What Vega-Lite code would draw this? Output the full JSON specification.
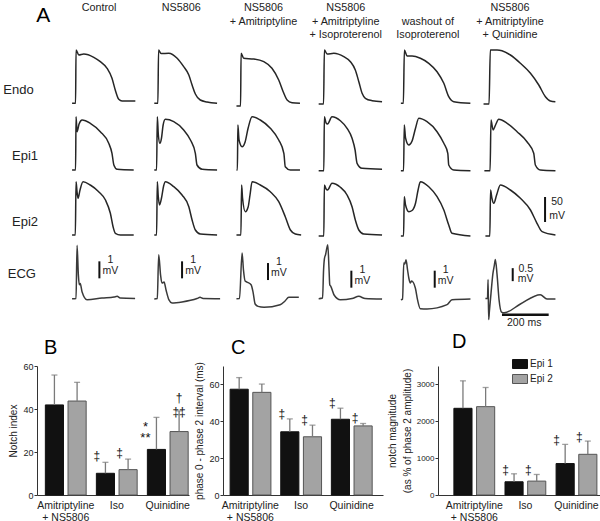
{
"$schema": "https://vega.github.io/schema/vega-lite/v6.json",
"padding": {"left": 3, "top": 2, "right": 0, "bottom": 0},
"config": {"font": "Liberation Sans", "view": {"stroke": null}, "axis": {"grid": false, "domainColor": "#333", "tickColor": "#333", "labelColor": "#222", "titleColor": "#222", "titleFontWeight": "normal"}},
"center": true,
"spacing": 3,
"vconcat": [
{
"data": {"values": [
{"r":"Endo","c":"c1","k":"ap","t":0,"v":-84.6},{"r":"Endo","c":"c1","k":"ap","t":15,"v":-84.6},{"r":"Endo","c":"c1","k":"ap","t":17,"v":22},{"r":"Endo","c":"c1","k":"ap","t":29,"v":12},{"r":"Endo","c":"c1","k":"ap","t":50,"v":14},{"r":"Endo","c":"c1","k":"ap","t":93,"v":7.4},{"r":"Endo","c":"c1","k":"ap","t":121,"v":-1.4},{"r":"Endo","c":"c1","k":"ap","t":150,"v":-14.6},{"r":"Endo","c":"c1","k":"ap","t":171,"v":-34.6},{"r":"Endo","c":"c1","k":"ap","t":185,"v":-58},{"r":"Endo","c":"c1","k":"ap","t":200,"v":-76.6},{"r":"Endo","c":"c1","k":"ap","t":214,"v":-80},{"r":"Endo","c":"c1","k":"ap","t":271,"v":-80},
{"r":"Endo","c":"c2","k":"ap","t":0,"v":-84.6},{"r":"Endo","c":"c2","k":"ap","t":15.4,"v":-84.6},{"r":"Endo","c":"c2","k":"ap","t":18.4,"v":22},{"r":"Endo","c":"c2","k":"ap","t":29,"v":15},{"r":"Endo","c":"c2","k":"ap","t":62,"v":15.4},{"r":"Endo","c":"c2","k":"ap","t":98,"v":5.4},{"r":"Endo","c":"c2","k":"ap","t":126,"v":-11.4},{"r":"Endo","c":"c2","k":"ap","t":148,"v":-28},{"r":"Endo","c":"c2","k":"ap","t":162,"v":-48},{"r":"Endo","c":"c2","k":"ap","t":176,"v":-66},{"r":"Endo","c":"c2","k":"ap","t":197,"v":-78},{"r":"Endo","c":"c2","k":"ap","t":226,"v":-82},{"r":"Endo","c":"c2","k":"ap","t":269,"v":-84.6},
{"r":"Endo","c":"c3","k":"ap","t":0,"v":-90},{"r":"Endo","c":"c3","k":"ap","t":17.6,"v":-90},{"r":"Endo","c":"c3","k":"ap","t":19.7,"v":15.4},{"r":"Endo","c":"c3","k":"ap","t":31,"v":5.4},{"r":"Endo","c":"c3","k":"ap","t":74,"v":4},{"r":"Endo","c":"c3","k":"ap","t":117,"v":-1.4},{"r":"Endo","c":"c3","k":"ap","t":152,"v":-14.6},{"r":"Endo","c":"c3","k":"ap","t":181,"v":-38},{"r":"Endo","c":"c3","k":"ap","t":200,"v":-61.4},{"r":"Endo","c":"c3","k":"ap","t":217,"v":-78},{"r":"Endo","c":"c3","k":"ap","t":238,"v":-83.4},{"r":"Endo","c":"c3","k":"ap","t":272,"v":-84.6},
{"r":"Endo","c":"c4","k":"ap","t":0,"v":-86},{"r":"Endo","c":"c4","k":"ap","t":21,"v":-86},{"r":"Endo","c":"c4","k":"ap","t":24.4,"v":22},{"r":"Endo","c":"c4","k":"ap","t":36,"v":14},{"r":"Endo","c":"c4","k":"ap","t":65,"v":15.4},{"r":"Endo","c":"c4","k":"ap","t":107.5,"v":8.6},{"r":"Endo","c":"c4","k":"ap","t":136,"v":-1.4},{"r":"Endo","c":"c4","k":"ap","t":157,"v":-18},{"r":"Endo","c":"c4","k":"ap","t":172,"v":-41.4},{"r":"Endo","c":"c4","k":"ap","t":186,"v":-64.6},{"r":"Endo","c":"c4","k":"ap","t":200,"v":-74.6},{"r":"Endo","c":"c4","k":"ap","t":229,"v":-79.4},{"r":"Endo","c":"c4","k":"ap","t":271.5,"v":-81.4},
{"r":"Endo","c":"c5","k":"ap","t":0,"v":-84.6},{"r":"Endo","c":"c5","k":"ap","t":10.7,"v":-84.6},{"r":"Endo","c":"c5","k":"ap","t":15,"v":22},{"r":"Endo","c":"c5","k":"ap","t":26.5,"v":10},{"r":"Endo","c":"c5","k":"ap","t":48,"v":10},{"r":"Endo","c":"c5","k":"ap","t":83.5,"v":5.4},{"r":"Endo","c":"c5","k":"ap","t":119.5,"v":-4.6},{"r":"Endo","c":"c5","k":"ap","t":155,"v":-21.4},{"r":"Endo","c":"c5","k":"ap","t":184,"v":-44.6},{"r":"Endo","c":"c5","k":"ap","t":205,"v":-71.4},{"r":"Endo","c":"c5","k":"ap","t":226.5,"v":-81.4},{"r":"Endo","c":"c5","k":"ap","t":297.7,"v":-84.6},
{"r":"Endo","c":"c6","k":"ap","t":2,"v":-86},{"r":"Endo","c":"c6","k":"ap","t":25.7,"v":-86},{"r":"Endo","c":"c6","k":"ap","t":31,"v":22},{"r":"Endo","c":"c6","k":"ap","t":60,"v":22},{"r":"Endo","c":"c6","k":"ap","t":81,"v":20.6},{"r":"Endo","c":"c6","k":"ap","t":117,"v":12},{"r":"Endo","c":"c6","k":"ap","t":160,"v":-4.6},{"r":"Endo","c":"c6","k":"ap","t":203,"v":-24.6},{"r":"Endo","c":"c6","k":"ap","t":238.6,"v":-48},{"r":"Endo","c":"c6","k":"ap","t":267,"v":-71.4},{"r":"Endo","c":"c6","k":"ap","t":288,"v":-80},{"r":"Endo","c":"c6","k":"ap","t":309.7,"v":-81.4},
{"r":"Epi1","c":"c1","k":"ap","t":0,"v":-86},{"r":"Epi1","c":"c1","k":"ap","t":15,"v":-86},{"r":"Epi1","c":"c1","k":"ap","t":17,"v":20.6},{"r":"Epi1","c":"c1","k":"ap","t":21.4,"v":-9.4},{"r":"Epi1","c":"c1","k":"ap","t":30,"v":6},{"r":"Epi1","c":"c1","k":"ap","t":43,"v":14},{"r":"Epi1","c":"c1","k":"ap","t":78,"v":7.4},{"r":"Epi1","c":"c1","k":"ap","t":121,"v":-9.4},{"r":"Epi1","c":"c1","k":"ap","t":157,"v":-32.6},{"r":"Epi1","c":"c1","k":"ap","t":171,"v":-52.6},{"r":"Epi1","c":"c1","k":"ap","t":179,"v":-76},{"r":"Epi1","c":"c1","k":"ap","t":193,"v":-84.6},{"r":"Epi1","c":"c1","k":"ap","t":264,"v":-86},
{"r":"Epi1","c":"c2","k":"ap","t":0,"v":-86},{"r":"Epi1","c":"c2","k":"ap","t":10,"v":-86},{"r":"Epi1","c":"c2","k":"ap","t":13,"v":20.6},{"r":"Epi1","c":"c2","k":"ap","t":17.5,"v":-16},{"r":"Epi1","c":"c2","k":"ap","t":24,"v":-32.6},{"r":"Epi1","c":"c2","k":"ap","t":31,"v":-22},{"r":"Epi1","c":"c2","k":"ap","t":38,"v":4},{"r":"Epi1","c":"c2","k":"ap","t":47.5,"v":15.4},{"r":"Epi1","c":"c2","k":"ap","t":83.5,"v":10.6},{"r":"Epi1","c":"c2","k":"ap","t":126,"v":-6},{"r":"Epi1","c":"c2","k":"ap","t":155,"v":-26},{"r":"Epi1","c":"c2","k":"ap","t":176,"v":-52.6},{"r":"Epi1","c":"c2","k":"ap","t":183,"v":-76},{"r":"Epi1","c":"c2","k":"ap","t":205,"v":-84.6},{"r":"Epi1","c":"c2","k":"ap","t":269,"v":-86},
{"r":"Epi1","c":"c3","k":"ap","t":0,"v":-86},{"r":"Epi1","c":"c3","k":"ap","t":3.9,"v":-86},{"r":"Epi1","c":"c3","k":"ap","t":6,"v":4},{"r":"Epi1","c":"c3","k":"ap","t":11,"v":-26},{"r":"Epi1","c":"c3","k":"ap","t":24,"v":-39.4},{"r":"Epi1","c":"c3","k":"ap","t":37,"v":-30},{"r":"Epi1","c":"c3","k":"ap","t":50,"v":-2},{"r":"Epi1","c":"c3","k":"ap","t":67,"v":20.6},{"r":"Epi1","c":"c3","k":"ap","t":102,"v":14},{"r":"Epi1","c":"c3","k":"ap","t":145,"v":-2.6},{"r":"Epi1","c":"c3","k":"ap","t":181,"v":-26},{"r":"Epi1","c":"c3","k":"ap","t":203,"v":-52.6},{"r":"Epi1","c":"c3","k":"ap","t":209,"v":-79.4},{"r":"Epi1","c":"c3","k":"ap","t":231,"v":-86},{"r":"Epi1","c":"c3","k":"ap","t":272,"v":-86},
{"r":"Epi1","c":"c4","k":"ap","t":0,"v":-87.4},{"r":"Epi1","c":"c4","k":"ap","t":22,"v":-87.4},{"r":"Epi1","c":"c4","k":"ap","t":24.4,"v":20.6},{"r":"Epi1","c":"c4","k":"ap","t":31.7,"v":8},{"r":"Epi1","c":"c4","k":"ap","t":38,"v":6},{"r":"Epi1","c":"c4","k":"ap","t":57,"v":20.6},{"r":"Epi1","c":"c4","k":"ap","t":93,"v":12.6},{"r":"Epi1","c":"c4","k":"ap","t":121.6,"v":-2.6},{"r":"Epi1","c":"c4","k":"ap","t":143,"v":-22.6},{"r":"Epi1","c":"c4","k":"ap","t":156,"v":-46},{"r":"Epi1","c":"c4","k":"ap","t":164.5,"v":-72.6},{"r":"Epi1","c":"c4","k":"ap","t":186,"v":-82.6},{"r":"Epi1","c":"c4","k":"ap","t":271.5,"v":-84.6},
{"r":"Epi1","c":"c5","k":"ap","t":0,"v":-87.4},{"r":"Epi1","c":"c5","k":"ap","t":11.6,"v":-87.4},{"r":"Epi1","c":"c5","k":"ap","t":14.6,"v":4},{"r":"Epi1","c":"c5","k":"ap","t":20,"v":-22},{"r":"Epi1","c":"c5","k":"ap","t":34,"v":-36},{"r":"Epi1","c":"c5","k":"ap","t":48,"v":-28},{"r":"Epi1","c":"c5","k":"ap","t":63,"v":-2},{"r":"Epi1","c":"c5","k":"ap","t":76.7,"v":17.4},{"r":"Epi1","c":"c5","k":"ap","t":112,"v":10.6},{"r":"Epi1","c":"c5","k":"ap","t":155,"v":-9.4},{"r":"Epi1","c":"c5","k":"ap","t":184,"v":-32.6},{"r":"Epi1","c":"c5","k":"ap","t":201,"v":-52.6},{"r":"Epi1","c":"c5","k":"ap","t":205,"v":-76},{"r":"Epi1","c":"c5","k":"ap","t":226.5,"v":-86},{"r":"Epi1","c":"c5","k":"ap","t":298,"v":-87.4},
{"r":"Epi1","c":"c6","k":"ap","t":5.6,"v":-87.4},{"r":"Epi1","c":"c6","k":"ap","t":30,"v":-87.4},{"r":"Epi1","c":"c6","k":"ap","t":34,"v":14},{"r":"Epi1","c":"c6","k":"ap","t":43,"v":-6},{"r":"Epi1","c":"c6","k":"ap","t":53.5,"v":4},{"r":"Epi1","c":"c6","k":"ap","t":67,"v":15.4},{"r":"Epi1","c":"c6","k":"ap","t":103,"v":7.4},{"r":"Epi1","c":"c6","k":"ap","t":145.6,"v":-9.4},{"r":"Epi1","c":"c6","k":"ap","t":188,"v":-29.4},{"r":"Epi1","c":"c6","k":"ap","t":217,"v":-52.6},{"r":"Epi1","c":"c6","k":"ap","t":224,"v":-76},{"r":"Epi1","c":"c6","k":"ap","t":245,"v":-86},{"r":"Epi1","c":"c6","k":"ap","t":310,"v":-87.4},
{"r":"Epi2","c":"c1","k":"ap","t":0,"v":-84},{"r":"Epi2","c":"c1","k":"ap","t":14,"v":-84},{"r":"Epi2","c":"c1","k":"ap","t":17,"v":22.6},{"r":"Epi2","c":"c1","k":"ap","t":21.4,"v":2},{"r":"Epi2","c":"c1","k":"ap","t":25.7,"v":-10.6},{"r":"Epi2","c":"c1","k":"ap","t":34,"v":6},{"r":"Epi2","c":"c1","k":"ap","t":47,"v":22.6},{"r":"Epi2","c":"c1","k":"ap","t":78,"v":16},{"r":"Epi2","c":"c1","k":"ap","t":114,"v":2.6},{"r":"Epi2","c":"c1","k":"ap","t":143,"v":-14},{"r":"Epi2","c":"c1","k":"ap","t":164,"v":-40.6},{"r":"Epi2","c":"c1","k":"ap","t":175.6,"v":-67.4},{"r":"Epi2","c":"c1","k":"ap","t":185.5,"v":-80.6},{"r":"Epi2","c":"c1","k":"ap","t":207,"v":-84},{"r":"Epi2","c":"c1","k":"ap","t":264,"v":-84},
{"r":"Epi2","c":"c2","k":"ap","t":0,"v":-84},{"r":"Epi2","c":"c2","k":"ap","t":10,"v":-84},{"r":"Epi2","c":"c2","k":"ap","t":13,"v":22.6},{"r":"Epi2","c":"c2","k":"ap","t":17,"v":-6},{"r":"Epi2","c":"c2","k":"ap","t":22.7,"v":-24},{"r":"Epi2","c":"c2","k":"ap","t":31,"v":-10},{"r":"Epi2","c":"c2","k":"ap","t":40,"v":14},{"r":"Epi2","c":"c2","k":"ap","t":47.5,"v":22.6},{"r":"Epi2","c":"c2","k":"ap","t":83.5,"v":12.6},{"r":"Epi2","c":"c2","k":"ap","t":119,"v":-4},{"r":"Epi2","c":"c2","k":"ap","t":148,"v":-27.4},{"r":"Epi2","c":"c2","k":"ap","t":162,"v":-54},{"r":"Epi2","c":"c2","k":"ap","t":176,"v":-74},{"r":"Epi2","c":"c2","k":"ap","t":197.5,"v":-82},{"r":"Epi2","c":"c2","k":"ap","t":269,"v":-84},
{"r":"Epi2","c":"c3","k":"ap","t":0,"v":-84},{"r":"Epi2","c":"c3","k":"ap","t":19,"v":-84},{"r":"Epi2","c":"c3","k":"ap","t":22,"v":16},{"r":"Epi2","c":"c3","k":"ap","t":26,"v":-10},{"r":"Epi2","c":"c3","k":"ap","t":38,"v":-37.4},{"r":"Epi2","c":"c3","k":"ap","t":50,"v":-28},{"r":"Epi2","c":"c3","k":"ap","t":58,"v":-4},{"r":"Epi2","c":"c3","k":"ap","t":67,"v":22.6},{"r":"Epi2","c":"c3","k":"ap","t":102,"v":16},{"r":"Epi2","c":"c3","k":"ap","t":145,"v":2.6},{"r":"Epi2","c":"c3","k":"ap","t":181,"v":-17.4},{"r":"Epi2","c":"c3","k":"ap","t":209,"v":-47.4},{"r":"Epi2","c":"c3","k":"ap","t":231,"v":-74},{"r":"Epi2","c":"c3","k":"ap","t":252,"v":-82},{"r":"Epi2","c":"c3","k":"ap","t":277,"v":-84},
{"r":"Epi2","c":"c4","k":"ap","t":0,"v":-86},{"r":"Epi2","c":"c4","k":"ap","t":22,"v":-86},{"r":"Epi2","c":"c4","k":"ap","t":24.4,"v":16},{"r":"Epi2","c":"c4","k":"ap","t":31.7,"v":8},{"r":"Epi2","c":"c4","k":"ap","t":38,"v":6},{"r":"Epi2","c":"c4","k":"ap","t":57,"v":19.4},{"r":"Epi2","c":"c4","k":"ap","t":93,"v":11.4},{"r":"Epi2","c":"c4","k":"ap","t":121.6,"v":-4},{"r":"Epi2","c":"c4","k":"ap","t":143,"v":-27.4},{"r":"Epi2","c":"c4","k":"ap","t":157,"v":-54},{"r":"Epi2","c":"c4","k":"ap","t":172,"v":-74},{"r":"Epi2","c":"c4","k":"ap","t":193,"v":-82},{"r":"Epi2","c":"c4","k":"ap","t":271.5,"v":-84},
{"r":"Epi2","c":"c5","k":"ap","t":0,"v":-86},{"r":"Epi2","c":"c5","k":"ap","t":11.6,"v":-86},{"r":"Epi2","c":"c5","k":"ap","t":14.6,"v":-7.4},{"r":"Epi2","c":"c5","k":"ap","t":20,"v":-24},{"r":"Epi2","c":"c5","k":"ap","t":34,"v":-37.4},{"r":"Epi2","c":"c5","k":"ap","t":48,"v":-35},{"r":"Epi2","c":"c5","k":"ap","t":63,"v":-20},{"r":"Epi2","c":"c5","k":"ap","t":73.7,"v":6},{"r":"Epi2","c":"c5","k":"ap","t":83.5,"v":22.6},{"r":"Epi2","c":"c5","k":"ap","t":119.5,"v":12.6},{"r":"Epi2","c":"c5","k":"ap","t":155,"v":-7.4},{"r":"Epi2","c":"c5","k":"ap","t":184,"v":-34},{"r":"Epi2","c":"c5","k":"ap","t":205,"v":-64},{"r":"Epi2","c":"c5","k":"ap","t":219,"v":-80.6},{"r":"Epi2","c":"c5","k":"ap","t":298,"v":-86},
{"r":"Epi2","c":"c6","k":"ap","t":10,"v":-86},{"r":"Epi2","c":"c6","k":"ap","t":29,"v":-86},{"r":"Epi2","c":"c6","k":"ap","t":32,"v":6},{"r":"Epi2","c":"c6","k":"ap","t":37.7,"v":-10},{"r":"Epi2","c":"c6","k":"ap","t":46,"v":-20.6},{"r":"Epi2","c":"c6","k":"ap","t":58,"v":-4},{"r":"Epi2","c":"c6","k":"ap","t":74,"v":16},{"r":"Epi2","c":"c6","k":"ap","t":117,"v":6},{"r":"Epi2","c":"c6","k":"ap","t":160,"v":-10.6},{"r":"Epi2","c":"c6","k":"ap","t":203,"v":-34},{"r":"Epi2","c":"c6","k":"ap","t":231,"v":-60.6},{"r":"Epi2","c":"c6","k":"ap","t":253,"v":-77.4},{"r":"Epi2","c":"c6","k":"ap","t":310,"v":-84},
{"r":"ECG","c":"c1","k":"ecg","t":0,"v":0},{"r":"ECG","c":"c1","k":"ecg","t":17,"v":0.02},{"r":"ECG","c":"c1","k":"ecg","t":21.4,"v":3.14},{"r":"ECG","c":"c1","k":"ecg","t":27,"v":1.39},{"r":"ECG","c":"c1","k":"ecg","t":31,"v":0.82},{"r":"ECG","c":"c1","k":"ecg","t":35,"v":0.89},{"r":"ECG","c":"c1","k":"ecg","t":43,"v":0.39},{"r":"ECG","c":"c1","k":"ecg","t":64,"v":-0.06},{"r":"ECG","c":"c1","k":"ecg","t":128,"v":0.04},{"r":"ECG","c":"c1","k":"ecg","t":180,"v":0.1},{"r":"ECG","c":"c1","k":"ecg","t":193,"v":0.14},{"r":"ECG","c":"c1","k":"ecg","t":206,"v":0.04},{"r":"ECG","c":"c1","k":"ecg","t":270,"v":0.02},
{"r":"ECG","c":"c2","k":"ecg","t":0,"v":-0.02},{"r":"ECG","c":"c2","k":"ecg","t":13,"v":0.01},{"r":"ECG","c":"c2","k":"ecg","t":19,"v":2.59},{"r":"ECG","c":"c2","k":"ecg","t":27,"v":1.39},{"r":"ECG","c":"c2","k":"ecg","t":33,"v":0.92},{"r":"ECG","c":"c2","k":"ecg","t":42,"v":0.98},{"r":"ECG","c":"c2","k":"ecg","t":50.5,"v":0.51},{"r":"ECG","c":"c2","k":"ecg","t":63,"v":-0.07},{"r":"ECG","c":"c2","k":"ecg","t":76,"v":-0.25},{"r":"ECG","c":"c2","k":"ecg","t":119,"v":-0.19},{"r":"ECG","c":"c2","k":"ecg","t":183,"v":0.01},{"r":"ECG","c":"c2","k":"ecg","t":196,"v":0.08},{"r":"ECG","c":"c2","k":"ecg","t":209,"v":0.01},{"r":"ECG","c":"c2","k":"ecg","t":282,"v":0},
{"r":"ECG","c":"c3","k":"ecg","t":0,"v":0},{"r":"ECG","c":"c3","k":"ecg","t":13,"v":0.01},{"r":"ECG","c":"c3","k":"ecg","t":24,"v":2.69},{"r":"ECG","c":"c3","k":"ecg","t":30,"v":1.69},{"r":"ECG","c":"c3","k":"ecg","t":37,"v":1.04},{"r":"ECG","c":"c3","k":"ecg","t":45,"v":0.98},{"r":"ECG","c":"c3","k":"ecg","t":62.5,"v":0.82},{"r":"ECG","c":"c3","k":"ecg","t":71,"v":0.39},{"r":"ECG","c":"c3","k":"ecg","t":80,"v":-0.31},{"r":"ECG","c":"c3","k":"ecg","t":92.5,"v":-0.45},{"r":"ECG","c":"c3","k":"ecg","t":118,"v":-0.5},{"r":"ECG","c":"c3","k":"ecg","t":187,"v":-0.35},{"r":"ECG","c":"c3","k":"ecg","t":208,"v":-0.13},{"r":"ECG","c":"c3","k":"ecg","t":224,"v":0.08},{"r":"ECG","c":"c3","k":"ecg","t":267,"v":0.08},
{"r":"ECG","c":"c4","k":"ecg","t":0,"v":0},{"r":"ECG","c":"c4","k":"ecg","t":16.7,"v":0.04},{"r":"ECG","c":"c4","k":"ecg","t":21,"v":1.69},{"r":"ECG","c":"c4","k":"ecg","t":25,"v":2.39},{"r":"ECG","c":"c4","k":"ecg","t":29.5,"v":2.59},{"r":"ECG","c":"c4","k":"ecg","t":39,"v":3.18},{"r":"ECG","c":"c4","k":"ecg","t":44.5,"v":1.69},{"r":"ECG","c":"c4","k":"ecg","t":47.5,"v":0.82},{"r":"ECG","c":"c4","k":"ecg","t":52,"v":0.73},{"r":"ECG","c":"c4","k":"ecg","t":66,"v":0.22},{"r":"ECG","c":"c4","k":"ecg","t":93,"v":-0.06},{"r":"ECG","c":"c4","k":"ecg","t":143,"v":0.01},{"r":"ECG","c":"c4","k":"ecg","t":172,"v":0.14},{"r":"ECG","c":"c4","k":"ecg","t":199,"v":0.01},{"r":"ECG","c":"c4","k":"ecg","t":271.5,"v":-0.02},
{"r":"ECG","c":"c5","k":"ecg","t":0,"v":-0.06},{"r":"ECG","c":"c5","k":"ecg","t":7.3,"v":-0.02},{"r":"ECG","c":"c5","k":"ecg","t":12.4,"v":2.1},{"r":"ECG","c":"c5","k":"ecg","t":17,"v":2.04},{"r":"ECG","c":"c5","k":"ecg","t":22,"v":2.29},{"r":"ECG","c":"c5","k":"ecg","t":28.7,"v":1.69},{"r":"ECG","c":"c5","k":"ecg","t":34,"v":1.22},{"r":"ECG","c":"c5","k":"ecg","t":40.7,"v":0.92},{"r":"ECG","c":"c5","k":"ecg","t":46,"v":1.04},{"r":"ECG","c":"c5","k":"ecg","t":62,"v":0.63},{"r":"ECG","c":"c5","k":"ecg","t":71.5,"v":-0.07},{"r":"ECG","c":"c5","k":"ecg","t":83.5,"v":-0.59},{"r":"ECG","c":"c5","k":"ecg","t":112,"v":-0.6},{"r":"ECG","c":"c5","k":"ecg","t":198,"v":-0.35},{"r":"ECG","c":"c5","k":"ecg","t":219,"v":-0.06},{"r":"ECG","c":"c5","k":"ecg","t":298,"v":-0.02},
{"r":"ECG","c":"c6","k":"ecg2","t":10,"v":0},{"r":"ECG","c":"c6","k":"ecg2","t":19,"v":0},{"r":"ECG","c":"c6","k":"ecg2","t":21.4,"v":0.73},{"r":"ECG","c":"c6","k":"ecg2","t":24,"v":-0.81},{"r":"ECG","c":"c6","k":"ecg2","t":27,"v":-0.5},{"r":"ECG","c":"c6","k":"ecg2","t":34,"v":0.2},{"r":"ECG","c":"c6","k":"ecg2","t":42,"v":0.95},{"r":"ECG","c":"c6","k":"ecg2","t":48.4,"v":1.29},{"r":"ECG","c":"c6","k":"ecg2","t":52.7,"v":1.5},{"r":"ECG","c":"c6","k":"ecg2","t":60,"v":0.91},{"r":"ECG","c":"c6","k":"ecg2","t":68.5,"v":-0.05},{"r":"ECG","c":"c6","k":"ecg2","t":79,"v":-0.52},{"r":"ECG","c":"c6","k":"ecg2","t":90,"v":-0.55},{"r":"ECG","c":"c6","k":"ecg2","t":160,"v":-0.21},{"r":"ECG","c":"c6","k":"ecg2","t":245,"v":0.15},{"r":"ECG","c":"c6","k":"ecg2","t":274,"v":-0.02},{"r":"ECG","c":"c6","k":"ecg2","t":310,"v":-0.02},
{"r":"Epi2","c":"c6","k":"sb_ap","t":265.5,"v":-58,"v2":-8,"txt":["50","mV"]},
{"r":"ECG","c":"c1","k":"sb_ecg","t":117,"v":1.2,"v2":2.2,"txt":["1","mV"]},
{"r":"ECG","c":"c2","k":"sb_ecg","t":119,"v":1.2,"v2":2.2,"txt":["1","mV"]},
{"r":"ECG","c":"c3","k":"sb_ecg","t":135,"v":1.1,"v2":2.1,"txt":["1","mV"]},
{"r":"ECG","c":"c4","k":"sb_ecg","t":140,"v":0.65,"v2":1.65,"txt":["1","mV"]},
{"r":"ECG","c":"c5","k":"sb_ecg","t":145,"v":0.65,"v2":1.65,"txt":["1","mV"]},
{"r":"ECG","c":"c6","k":"sb_ecg2","t":127,"v":0.67,"v2":1.17,"txt":["0.5","mV"]},
{"r":"ECG","c":"c6","k":"sb_t","t":81,"t2":281,"v":-0.62,"txt":"200 ms"}
]},
"title": {"text": "A", "anchor": "start", "frame": "bounds", "dx": 33, "fontSize": 21, "fontWeight": "normal", "offset": -24},
"bounds": "flush",
"spacing": {"row": 6, "column": 28.2},
"facet": {
"row": {"field": "r", "type": "nominal", "sort": ["Endo", "Epi1", "Epi2", "ECG"], "header": {"title": null, "labelAngle": 0, "labelAlign": "right", "labelPadding": 8, "labelBaseline": "middle", "labelLineHeight": 14, "labelFontSize": 13, "labelColor": "#222", "labelExpr": "datum.value == 'ECG' ? '\u00a0\u00a0\u00a0\u00a0\u00a0\u00a0\u00a0\u00a0\u00a0ECG' : ['', '\u00a0\u00a0\u00a0\u00a0\u00a0\u00a0\u00a0\u00a0\u00a0' + datum.value]"}},
"column": {"field": "c", "type": "nominal", "sort": ["c1", "c2", "c3", "c4", "c5", "c6"], "header": {"title": null, "labelPadding": 6, "labelFontSize": 10.8, "labelLineHeight": 13.5, "labelColor": "#222", "labelExpr": "datum.value == 'c1' ? ['Control', '', ''] : datum.value == 'c2' ? ['NS5806', '', ''] : datum.value == 'c3' ? ['NS5806', '+ Amitriptyline', ''] : datum.value == 'c4' ? ['NS5806', '+ Amitriptyline', '+ Isoproterenol'] : datum.value == 'c5' ? ['washout of', 'Isoproterenol'] : ['NS5806', '+ Amitriptyline', '+ Quinidine']"}}
},
"spec": {
"width": 54, "height": 60,
"resolve": {"scale": {"y": "independent"}},
"layer": [
{"transform": [{"filter": "datum.k == 'ap'"}], "mark": {"type": "line", "color": "#262626", "strokeWidth": 1.5, "interpolate": "monotone"}, "encoding": {"x": {"field": "t", "type": "quantitative", "scale": {"domain": [0, 231.3], "nice": false, "zero": false}, "axis": null}, "y": {"field": "v", "type": "quantitative", "scale": {"domain": [-90, 30], "nice": false, "zero": false}, "axis": null}}},
{"transform": [{"filter": "datum.k == 'ecg'"}], "mark": {"type": "line", "color": "#3a3a3a", "strokeWidth": 1.5, "interpolate": "monotone"}, "encoding": {"x": {"field": "t", "type": "quantitative", "scale": {"domain": [0, 231.3], "nice": false, "zero": false}, "axis": null}, "y": {"field": "v", "type": "quantitative", "scale": {"domain": [-0.31, 3.22], "nice": false, "zero": false}, "axis": null}}},
{"transform": [{"filter": "datum.k == 'ecg2'"}], "mark": {"type": "line", "color": "#3a3a3a", "strokeWidth": 1.5, "interpolate": "monotone"}, "encoding": {"x": {"field": "t", "type": "quantitative", "scale": {"domain": [0, 231.3], "nice": false, "zero": false}, "axis": null}, "y": {"field": "v", "type": "quantitative", "scale": {"domain": [-0.21, 2.1], "nice": false, "zero": false}, "axis": null}}},
{"transform": [{"filter": "datum.k == 'sb_ap'"}], "mark": {"type": "rule", "color": "#111", "strokeWidth": 2}, "encoding": {"x": {"field": "t", "type": "quantitative", "scale": {"domain": [0, 231.3], "nice": false, "zero": false}, "axis": null}, "y": {"field": "v", "type": "quantitative", "scale": {"domain": [-90, 30], "nice": false, "zero": false}, "axis": null}, "y2": {"field": "v2"}}},
{"transform": [{"filter": "datum.k == 'sb_ap'"}], "mark": {"type": "text", "align": "center", "baseline": "top", "dx": 12, "dy": 0, "fontSize": 10.5, "lineHeight": 13.5, "color": "#222"}, "encoding": {"x": {"field": "t", "type": "quantitative", "scale": {"domain": [0, 231.3], "nice": false, "zero": false}, "axis": null}, "y": {"field": "v2", "type": "quantitative", "scale": {"domain": [-90, 30], "nice": false, "zero": false}, "axis": null}, "text": {"field": "txt"}}},
{"transform": [{"filter": "datum.k == 'sb_ecg'"}], "mark": {"type": "rule", "color": "#111", "strokeWidth": 2}, "encoding": {"x": {"field": "t", "type": "quantitative", "scale": {"domain": [0, 231.3], "nice": false, "zero": false}, "axis": null}, "y": {"field": "v", "type": "quantitative", "scale": {"domain": [-0.31, 3.22], "nice": false, "zero": false}, "axis": null}, "y2": {"field": "v2"}}},
{"transform": [{"filter": "datum.k == 'sb_ecg'"}], "mark": {"type": "text", "align": "center", "baseline": "top", "dx": 11, "dy": -6, "fontSize": 10.5, "lineHeight": 11, "color": "#222"}, "encoding": {"x": {"field": "t", "type": "quantitative", "scale": {"domain": [0, 231.3], "nice": false, "zero": false}, "axis": null}, "y": {"field": "v2", "type": "quantitative", "scale": {"domain": [-0.31, 3.22], "nice": false, "zero": false}, "axis": null}, "text": {"field": "txt"}}},
{"transform": [{"filter": "datum.k == 'sb_ecg2'"}], "mark": {"type": "rule", "color": "#111", "strokeWidth": 2}, "encoding": {"x": {"field": "t", "type": "quantitative", "scale": {"domain": [0, 231.3], "nice": false, "zero": false}, "axis": null}, "y": {"field": "v", "type": "quantitative", "scale": {"domain": [-0.21, 2.1], "nice": false, "zero": false}, "axis": null}, "y2": {"field": "v2"}}},
{"transform": [{"filter": "datum.k == 'sb_ecg2'"}], "mark": {"type": "text", "align": "center", "baseline": "top", "dx": 13, "dy": -4, "fontSize": 10.5, "lineHeight": 9.5, "color": "#222"}, "encoding": {"x": {"field": "t", "type": "quantitative", "scale": {"domain": [0, 231.3], "nice": false, "zero": false}, "axis": null}, "y": {"field": "v2", "type": "quantitative", "scale": {"domain": [-0.21, 2.1], "nice": false, "zero": false}, "axis": null}, "text": {"field": "txt"}}},
{"transform": [{"filter": "datum.k == 'sb_t'"}], "mark": {"type": "rule", "color": "#111", "strokeWidth": 2.5}, "encoding": {"x": {"field": "t", "type": "quantitative", "scale": {"domain": [0, 231.3], "nice": false, "zero": false}, "axis": null}, "x2": {"field": "t2"}, "y": {"field": "v", "type": "quantitative", "scale": {"domain": [-0.21, 2.1], "nice": false, "zero": false}, "axis": null}}},
{"transform": [{"filter": "datum.k == 'sb_t'"}], "mark": {"type": "text", "align": "left", "baseline": "top", "dx": 5, "dy": 3, "fontSize": 10.5, "color": "#222"}, "encoding": {"x": {"field": "t", "type": "quantitative", "scale": {"domain": [0, 231.3], "nice": false, "zero": false}, "axis": null}, "y": {"field": "v", "type": "quantitative", "scale": {"domain": [-0.21, 2.1], "nice": false, "zero": false}, "axis": null}, "text": {"field": "txt"}}}
]
}
},
{
"spacing": 4,
"resolve": {"scale": {"color": "independent", "stroke": "independent"}, "legend": {"color": "independent", "stroke": "independent"}},
"hconcat": [
{
"width": 152, "height": 129,
"title": {"text": "B", "anchor": "start", "frame": "group", "dx": 7, "offset": 4, "fontSize": 20, "fontWeight": "normal"},
"data": {"values": [
{"grp": "Amitriptyline + NS5806", "ser": "Epi 1", "mean": 41.9, "err": 55.8},
{"grp": "Amitriptyline + NS5806", "ser": "Epi 2", "mean": 43.7, "err": 52.4},
{"grp": "Iso", "ser": "Epi 1", "mean": 10.1, "err": 15.2, "ann": "‡", "side": "left"},
{"grp": "Iso", "ser": "Epi 2", "mean": 11.8, "err": 16.7, "ann": "‡", "side": "left"},
{"grp": "Quinidine", "ser": "Epi 1", "mean": 21.2, "err": 36.1, "ann": ["*", "**"], "side": "stars"},
{"grp": "Quinidine", "ser": "Epi 2", "mean": 29.5, "err": 39.1, "ann": ["†", "‡‡"], "side": "above"}
]},
"encoding": {
"x": {"field": "grp", "type": "nominal", "sort": ["Amitriptyline + NS5806", "Iso", "Quinidine"], "scale": {"paddingInner": 0.2, "paddingOuter": 0.09, "align": 0.91}, "axis": {"title": null, "labelAngle": 0, "ticks": false, "labelFontSize": 10.5, "labelPadding": 5, "labelLineHeight": 12, "labelExpr": "datum.label == 'Amitriptyline + NS5806' ? ['Amitriptyline', '+ NS5806'] : datum.label"}},
"xOffset": {"field": "ser", "type": "nominal", "scale": {"paddingInner": 0.2, "paddingOuter": 0}}
},
"layer": [
{"mark": {"type": "bar", "strokeWidth": 1}, "encoding": {"y": {"field": "mean", "type": "quantitative", "scale": {"domain": [0, 60], "nice": false}, "axis": {"title": "Notch index", "titleFontSize": 10, "labelFontSize": 9, "tickSize": 3, "labelPadding": 1, "values": [0, 10, 20, 30, 40, 50, 60]}}, "color": {"field": "ser", "type": "nominal", "scale": {"domain": ["Epi 1", "Epi 2"], "range": ["#111111", "#a3a3a3"]}, "legend": null}, "stroke": {"field": "ser", "type": "nominal", "scale": {"domain": ["Epi 1", "Epi 2"], "range": ["#111111", "#555555"]}, "legend": null}}},
{"mark": {"type": "rule", "color": "#7a7a7a", "strokeWidth": 1.3}, "encoding": {"y": {"field": "mean", "type": "quantitative"}, "y2": {"field": "err"}}},
{"mark": {"type": "tick", "color": "#7a7a7a", "thickness": 1.3, "size": 6}, "encoding": {"y": {"field": "err", "type": "quantitative"}}},
{"transform": [{"filter": "datum.side == 'left'"}], "mark": {"type": "text", "dx": -8.5, "dy": -2, "baseline": "alphabetic", "fontSize": 12, "color": "#111"}, "encoding": {"y": {"field": "err", "type": "quantitative"}, "text": {"field": "ann"}}},
{"transform": [{"filter": "datum.side == 'stars'"}], "mark": {"type": "text", "dx": -11, "dy": 4, "baseline": "top", "fontSize": 13, "lineHeight": 11, "color": "#111"}, "encoding": {"y": {"field": "err", "type": "quantitative"}, "text": {"field": "ann"}}},
{"transform": [{"filter": "datum.side == 'above'"}], "mark": {"type": "text", "dy": -6, "baseline": "bottom", "fontSize": 12, "lineHeight": 14, "color": "#111"}, "encoding": {"y": {"field": "err", "type": "quantitative"}, "text": {"field": "ann"}}}
]
},
{
"width": 160, "height": 129,
"title": {"text": "C", "anchor": "start", "frame": "group", "dx": 8, "offset": 4, "fontSize": 20, "fontWeight": "normal"},
"data": {"values": [
{"grp": "Amitriptyline + NS5806", "ser": "Epi 1", "mean": 57.4, "err": 63.7},
{"grp": "Amitriptyline + NS5806", "ser": "Epi 2", "mean": 55.7, "err": 60.2},
{"grp": "Iso", "ser": "Epi 1", "mean": 34.3, "err": 41.3, "ann": "‡", "side": "left"},
{"grp": "Iso", "ser": "Epi 2", "mean": 31.6, "err": 37.9, "ann": "‡", "side": "left"},
{"grp": "Quinidine", "ser": "Epi 1", "mean": 41.1, "err": 47.1, "ann": "‡", "side": "left"},
{"grp": "Quinidine", "ser": "Epi 2", "mean": 37.5, "err": 38.8, "ann": "‡", "side": "left"}
]},
"encoding": {
"x": {"field": "grp", "type": "nominal", "sort": ["Amitriptyline + NS5806", "Iso", "Quinidine"], "scale": {"paddingInner": 0.2, "paddingOuter": 0.18, "align": 0.39}, "axis": {"title": null, "labelAngle": 0, "ticks": false, "labelFontSize": 10.5, "labelPadding": 5, "labelLineHeight": 12, "labelExpr": "datum.label == 'Amitriptyline + NS5806' ? ['Amitriptyline', '+ NS5806'] : datum.label"}},
"xOffset": {"field": "ser", "type": "nominal", "scale": {"paddingInner": 0.2, "paddingOuter": 0}}
},
"layer": [
{"mark": {"type": "bar", "strokeWidth": 1}, "encoding": {"y": {"field": "mean", "type": "quantitative", "scale": {"domain": [0, 70], "nice": false}, "axis": {"title": "phase 0 - phase 2 interval (ms)", "titleFontSize": 10, "labelFontSize": 9, "tickSize": 3, "labelPadding": 1, "values": [0, 10, 20, 30, 40, 50, 60, 70]}}, "color": {"field": "ser", "type": "nominal", "scale": {"domain": ["Epi 1", "Epi 2"], "range": ["#111111", "#a3a3a3"]}, "legend": null}, "stroke": {"field": "ser", "type": "nominal", "scale": {"domain": ["Epi 1", "Epi 2"], "range": ["#111111", "#555555"]}, "legend": null}}},
{"mark": {"type": "rule", "color": "#7a7a7a", "strokeWidth": 1.3}, "encoding": {"y": {"field": "mean", "type": "quantitative"}, "y2": {"field": "err"}}},
{"mark": {"type": "tick", "color": "#7a7a7a", "thickness": 1.3, "size": 6}, "encoding": {"y": {"field": "err", "type": "quantitative"}}},
{"transform": [{"filter": "datum.side == 'left'"}], "mark": {"type": "text", "dx": -8, "dy": -1, "baseline": "alphabetic", "fontSize": 12, "color": "#111"}, "encoding": {"y": {"field": "err", "type": "quantitative"}, "text": {"field": "ann"}}}
]
},
{
"width": 162, "height": 129,
"title": {"text": "D", "anchor": "start", "frame": "group", "dx": 14, "offset": 4, "fontSize": 20, "fontWeight": "normal"},
"data": {"values": [
{"grp": "Amitriptyline + NS5806", "ser": "Epi 1", "mean": 2352, "err": 3097},
{"grp": "Amitriptyline + NS5806", "ser": "Epi 2", "mean": 2397, "err": 2917},
{"grp": "Iso", "ser": "Epi 1", "mean": 359, "err": 575, "ann": "‡", "side": "left"},
{"grp": "Iso", "ser": "Epi 2", "mean": 377, "err": 557, "ann": "‡", "side": "left"},
{"grp": "Quinidine", "ser": "Epi 1", "mean": 853, "err": 1373, "ann": "‡", "side": "left"},
{"grp": "Quinidine", "ser": "Epi 2", "mean": 1104, "err": 1463, "ann": "‡", "side": "left"}
]},
"encoding": {
"x": {"field": "grp", "type": "nominal", "sort": ["Amitriptyline + NS5806", "Iso", "Quinidine"], "scale": {"paddingInner": 0.2, "paddingOuter": 0.185, "align": 0.84}, "axis": {"title": null, "labelAngle": 0, "ticks": false, "labelFontSize": 10.5, "labelPadding": 5, "labelLineHeight": 12, "labelExpr": "datum.label == 'Amitriptyline + NS5806' ? ['Amitriptyline', '+ NS5806'] : datum.label"}},
"xOffset": {"field": "ser", "type": "nominal", "scale": {"paddingInner": 0.2, "paddingOuter": 0}}
},
"layer": [
{"mark": {"type": "bar", "strokeWidth": 1}, "encoding": {"y": {"field": "mean", "type": "quantitative", "scale": {"domain": [0, 3500], "nice": false}, "axis": {"title": ["notch magnitude", "(as % of phase 2 amplitude)"], "titleFontSize": 10, "titleLineHeight": 15, "labelFontSize": 8, "tickSize": 3, "labelPadding": 1, "format": "d", "values": [0, 500, 1000, 1500, 2000, 2500, 3000, 3500]}}, "color": {"field": "ser", "type": "nominal", "scale": {"domain": ["Epi 1", "Epi 2"], "range": ["#111111", "#a3a3a3"]}, "legend": {"title": null, "orient": "none", "legendX": 74, "legendY": -10, "padding": 0, "symbolType": "M-1,-0.6H1V0.6H-1Z", "symbolSize": 225, "symbolStrokeWidth": 1, "labelFontSize": 10, "labelOffset": 2, "rowPadding": 0, "labelColor": "#222"}}, "stroke": {"field": "ser", "type": "nominal", "scale": {"domain": ["Epi 1", "Epi 2"], "range": ["#111111", "#555555"]}}}},
{"mark": {"type": "rule", "color": "#7a7a7a", "strokeWidth": 1.3}, "encoding": {"y": {"field": "mean", "type": "quantitative"}, "y2": {"field": "err"}}},
{"mark": {"type": "tick", "color": "#7a7a7a", "thickness": 1.3, "size": 6}, "encoding": {"y": {"field": "err", "type": "quantitative"}}},
{"transform": [{"filter": "datum.side == 'left'"}], "mark": {"type": "text", "dx": -8.5, "dy": 0, "baseline": "alphabetic", "fontSize": 12, "color": "#111"}, "encoding": {"y": {"field": "err", "type": "quantitative"}, "text": {"field": "ann"}}}
]
}
]
}
]
}
